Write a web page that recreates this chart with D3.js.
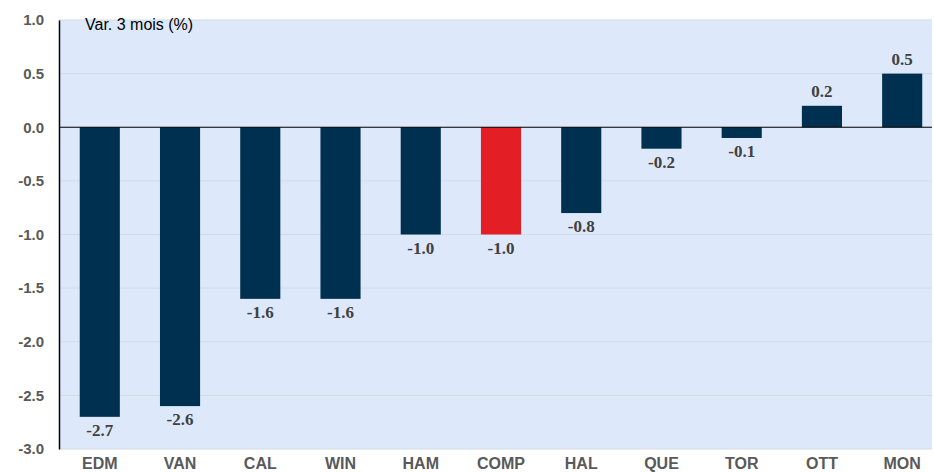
<html><head>
<script src="https://d3js.org/d3.v7.min.js"></script>
<style>
  body { margin: 0; background: #fff; }
  .tick text { font-family: "Liberation Sans", Arial, sans-serif; font-weight: bold; fill: #595959; }
</style>
</head>
<body>
<svg id="chart" width="934" height="472"></svg>
<script>

const cities = ["EDM", "VAN", "CAL", "WIN", "HAM", "COMP", "HAL", "QUE", "TOR", "OTT", "MON"];
const changes = [-2.7, -2.6, -1.6, -1.6, -1.0, -1.0, -0.8, -0.2, -0.1, 0.2, 0.5];
const yTicks = [-3.0, -2.5, -2.0, -1.5, -1.0, -0.5, 0.0, 0.5, 1.0];

const svg = d3.select("#chart");
const margin = { top: 20, right: 2, bottom: 23, left: 59 };
const width = 934 - margin.left - margin.right;
const height = 472 - margin.top - margin.bottom;

const g = svg.append("g")
  .attr("transform", "translate(" + margin.left + "," + margin.top + ")");

const x = d3.scaleBand().domain(cities).range([0, width])
  .paddingInner(0.5).paddingOuter(0.19).align(0.68);
const y = d3.scaleLinear().domain([-3, 1]).range([height, 0]);

// plot background
g.append("rect")
  .attr("width", width).attr("height", height)
  .attr("fill", "#dde9fb");

// grid lines
g.selectAll("line.grid").data(yTicks)
  .join("line")
  .attr("class", "grid")
  .attr("x1", 0).attr("x2", width)
  .attr("y1", d => y(d)).attr("y2", d => y(d))
  .attr("stroke", "#d3d9e2").attr("stroke-width", 1);

// bars
g.selectAll("rect.bar").data(cities)
  .join("rect")
  .attr("class", "bar")
  .attr("x", d => x(d))
  .attr("width", x.bandwidth())
  .attr("y", (d, i) => y(Math.max(0, changes[i])))
  .attr("height", (d, i) => Math.abs(y(changes[i]) - y(0)))
  .attr("fill", d => d === "COMP" ? "#e31e24" : "#00304f");

// value labels
g.selectAll("text.val").data(cities)
  .join("text")
  .attr("class", "val")
  .attr("x", d => x(d) + x.bandwidth() / 2)
  .attr("y", (d, i) => changes[i] >= 0 ? y(changes[i]) - 9 : y(changes[i]) + 19)
  .attr("text-anchor", "middle")
  .style("font-family", "'Liberation Serif', 'Times New Roman', serif")
  .style("font-weight", "bold")
  .style("font-size", "17px")
  .attr("fill", "#404040")
  .text((d, i) => d3.format(".1f")(changes[i]).replace("−", "-"));

// zero line
g.append("line")
  .attr("x1", 0).attr("x2", width)
  .attr("y1", y(0)).attr("y2", y(0))
  .attr("stroke", "#000").attr("stroke-width", 1.2);

// y axis
const yAxis = g.append("g")
  .call(d3.axisLeft(y).tickValues(yTicks).tickSize(0).tickPadding(15)
    .tickFormat(d => d3.format(".1f")(d).replace("−", "-")));
yAxis.select(".domain").attr("stroke", "#000").attr("stroke-width", 1.5);
yAxis.selectAll(".tick text").style("font-size", "15px");

// x axis labels
const xAxis = g.append("g")
  .attr("transform", "translate(0," + height + ")")
  .call(d3.axisBottom(x).tickSize(0).tickPadding(9));
xAxis.select(".domain").remove();
xAxis.selectAll(".tick text").style("font-size", "16px");

// title inside plot
g.append("text")
  .attr("x", 26).attr("y", 10)
  .style("font-family", "'Liberation Sans', Arial, sans-serif")
  .style("font-size", "16px")
  .attr("fill", "#000")
  .text("Var. 3 mois (%)");

</script>
</body>
</html>
